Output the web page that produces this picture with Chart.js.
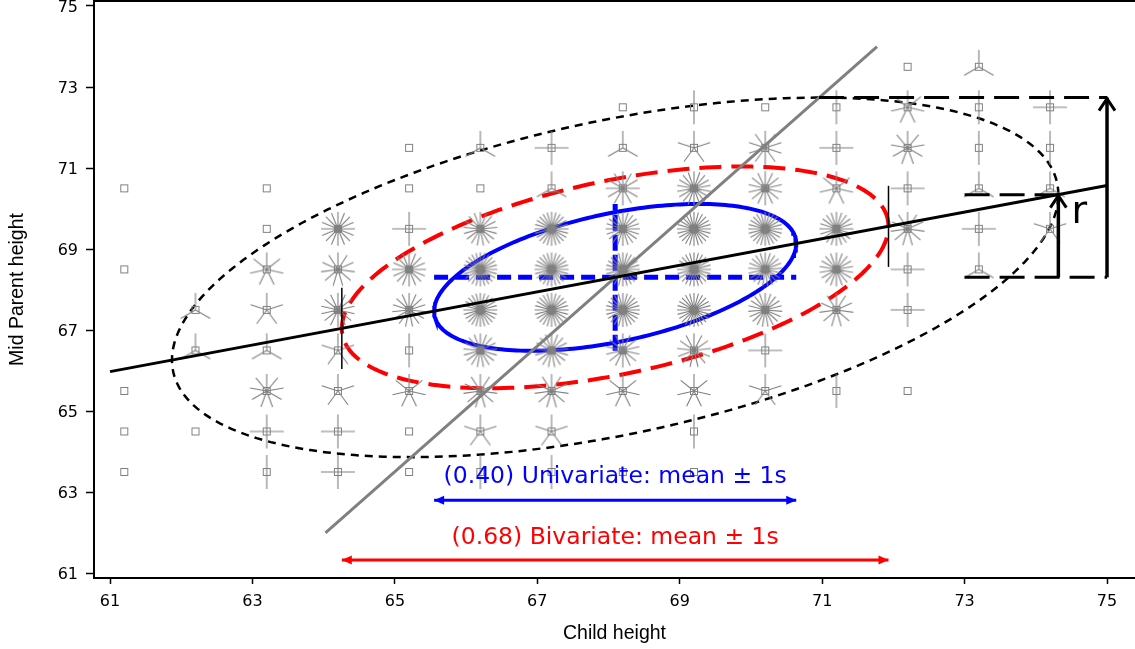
<!DOCTYPE html>
<html>
<head>
<meta charset="utf-8">
<title>Galton data: sunflower plot with data ellipses</title>
<script src="https://cdn.jsdelivr.net/npm/chart.js@4.4.1/dist/chart.umd.min.js"></script>
<style>
  html, body { margin: 0; padding: 0; background: #fff; }
  #wrap { width: 1135px; height: 649px; position: relative; }
</style>
</head>
<body>
<div id="wrap"><canvas id="galton"></canvas></div>
<script>
// ==== DATA ====
// child height classes (x) and mid parent height classes (y)
const childHeights = [61.2, 62.2, 63.2, 64.2, 65.2, 66.2, 67.2, 68.2, 69.2, 70.2, 71.2, 72.2, 73.2, 74.2];
const parentHeights = [63.5, 64.5, 65.5, 66.5, 67.5, 68.5, 69.5, 70.5, 71.5, 72.5, 73.5];

// number of children in each cell, one row per mid parent class
const parent635 = [1, 0, 2, 4, 1, 2, 2, 1, 1, 0, 0, 0, 0, 0];
const parent645 = [1, 1, 4, 4, 1, 5, 5, 0, 2, 0, 0, 0, 0, 0];
const parent655 = [1, 0, 9, 5, 7, 11, 11, 7, 7, 5, 2, 1, 0, 0];
const parent665 = [0, 3, 3, 5, 2, 17, 17, 14, 13, 4, 0, 0, 0, 0];
const parent675 = [0, 3, 5, 14, 15, 36, 38, 28, 38, 19, 11, 4, 0, 0];
const parent685 = [1, 0, 7, 11, 16, 25, 31, 34, 48, 21, 18, 4, 3, 0];
const parent695 = [0, 0, 1, 16, 4, 17, 27, 20, 33, 25, 20, 11, 4, 5];
const parent705 = [1, 0, 1, 0, 1, 1, 3, 12, 18, 14, 7, 4, 3, 3];
const parent715 = [0, 0, 0, 0, 1, 3, 4, 3, 5, 10, 4, 9, 2, 2];
const parent725 = [0, 0, 0, 0, 0, 0, 0, 1, 2, 1, 2, 7, 2, 4];
const parent735 = [0, 0, 0, 0, 0, 0, 0, 0, 0, 0, 0, 1, 3, 0];
const countRows = [parent635, parent645, parent655, parent665, parent675, parent685,
                   parent695, parent705, parent715, parent725, parent735];

const xTicks = [61, 63, 65, 67, 69, 71, 73, 75];
const yTicks = [61, 63, 65, 67, 69, 71, 73, 75];

const uniLabel = "(0.40) Univariate: mean \u00b1 1s";
const biLabel = "(0.68) Bivariate: mean \u00b1 1s";

// ==== STATS ====
let n = 0, sx = 0, sy = 0;
const cells = [];
countRows.forEach((row, i) => {
    row.forEach((k, j) => {
        if (k > 0) {
            cells.push({ x: childHeights[j], y: parentHeights[i], n: k });
            n += k; sx += k * childHeights[j]; sy += k * parentHeights[i];
        }
    });
});
const mx = sx / n, my = sy / n;
let sxx = 0, syy = 0, sxy = 0;
cells.forEach(c => {
    sxx += c.n * (c.x - mx) ** 2;
    syy += c.n * (c.y - my) ** 2;
    sxy += c.n * (c.x - mx) * (c.y - my);
});
const sdx = Math.sqrt(sxx / (n - 1)), sdy = Math.sqrt(syy / (n - 1));
const r = sxy / Math.sqrt(sxx * syy);

const c68 = Math.sqrt(-2 * Math.log(1 - 0.68));
const c95 = Math.sqrt(-2 * Math.log(1 - 0.95));

function ellipse(c) {
    const pts = [];
    for (let i = 0; i <= 240; i++) {
        const t = i / 240 * 2 * Math.PI;
        pts.push({
            x: mx + c * sdx * Math.cos(t),
            y: my + c * sdy * (r * Math.cos(t) + Math.sqrt(1 - r * r) * Math.sin(t))
        });
    }
    return pts;
}
const yOnX = x => my + r * sdy / sdx * (x - mx);
const xOnY = y => mx + r * sdx / sdy * (y - my);

// ==== SUNFLOWER GLYPHS ====
const glyphCache = {};
function flower(k) {
    if (glyphCache[k]) return glyphCache[k];
    const size = 44, c = size / 2;
    const petals = Math.min(k, 24);
    const cv = document.createElement("canvas");
    cv.width = size; cv.height = size;
    const g = cv.getContext("2d");
    g.strokeStyle = "#808080";
    if (k > 1) {
        g.lineWidth = 1.1;
        g.beginPath();
        for (let i = 0; i < petals; i++) {
            const a = -Math.PI / 2 + i * 2 * Math.PI / petals;
            g.moveTo(c, c);
            g.lineTo(c + 17 * Math.cos(a), c + 17 * Math.sin(a));
        }
        g.stroke();
    }
    g.lineWidth = 1;
    g.strokeRect(c - 3.5, c - 3.5, 7, 7);
    glyphCache[k] = cv;
    return cv;
}

// ==== LINE HELPERS ====
function seg(data, color, width, dash, order) {
    return {
        data, showLine: true, pointRadius: 0, borderColor: color, borderWidth: width,
        borderDash: dash || [], fill: false, order: order
    };
}

const xRight = mx + c95 * sdx, yTop = my + c95 * sdy, yMid = my + r * c95 * sdy;
const xTopPt = mx + r * c95 * sdx;
const uniY = 62.8, biY = 61.33;

const datasets = [
    seg(ellipse(c95), "#000", 2.5, [8, 6], 9),
    seg(ellipse(c68), "#ff0000", 4, [22, 10], 8),
    seg(ellipse(1), "#0000ff", 4, [], 7),
    seg([{ x: mx - sdx, y: my }, { x: mx + sdx, y: my }], "#0000ff", 5, [14, 7], 6),
    seg([{ x: mx, y: my - sdy }, { x: mx, y: my + sdy }], "#0000ff", 5, [16, 4], 6),
    {
        data: cells, pointStyle: ctx => flower(ctx.raw ? ctx.raw.n : 1),
        pointRadius: 5, showLine: false, order: 5
    },
    seg([{ x: xOnY(62), y: 62 }, { x: xOnY(74), y: 74 }], "#808080", 3, [], 4),
    seg([{ x: 61, y: yOnX(61) }, { x: 75, y: yOnX(75) }], "#000", 3, [], 3),
    seg([{ x: mx - c68 * sdx, y: yOnX(mx - c68 * sdx) - 1 }, { x: mx - c68 * sdx, y: yOnX(mx - c68 * sdx) + 1 }], "#000", 1.5, [], 3),
    seg([{ x: mx + c68 * sdx, y: yOnX(mx + c68 * sdx) - 1 }, { x: mx + c68 * sdx, y: yOnX(mx + c68 * sdx) + 1 }], "#000", 1.5, [], 3),
    // right side: r as a ratio of the two vertical spans
    seg([{ x: xTopPt, y: yTop }, { x: 75, y: yTop }], "#000", 3, [25, 10], 2),
    seg([{ x: 73, y: yMid }, { x: xRight, y: yMid }], "#000", 3, [25, 10], 2),
    seg([{ x: 73, y: my }, { x: 75, y: my }], "#000", 3, [25, 10], 2),
    seg([{ x: 75, y: my }, { x: 75, y: yTop }], "#000", 3.5, [], 2),
    seg([{ x: xRight, y: my }, { x: xRight, y: yMid }], "#000", 3.5, [], 2),
    // bottom range arrows
    seg([{ x: mx - sdx, y: uniY }, { x: mx + sdx, y: uniY }], "#0000ff", 3, [], 2),
    seg([{ x: mx - c68 * sdx, y: biY }, { x: mx + c68 * sdx, y: biY }], "#ff0000", 3, [], 2)
];

// ==== ARROWHEADS + TEXT ====
const notes = {
    id: "notes",
    afterDatasetsDraw(chart) {
        const { ctx, scales: { x, y } } = chart;
        const px = v => x.getPixelForValue(v), py = v => y.getPixelForValue(v);

        function solidHead(X, Y, dir, color) {
            ctx.fillStyle = color;
            ctx.beginPath();
            ctx.moveTo(X, Y);
            ctx.lineTo(X - dir * 10, Y - 4.5);
            ctx.lineTo(X - dir * 10, Y + 4.5);
            ctx.closePath();
            ctx.fill();
        }
        function openHead(X, Y) {
            ctx.strokeStyle = "#000";
            ctx.lineWidth = 3;
            ctx.beginPath();
            ctx.moveTo(X - 8, Y + 13);
            ctx.lineTo(X, Y + 1);
            ctx.lineTo(X + 8, Y + 13);
            ctx.stroke();
        }
        ctx.save();
        solidHead(px(mx - sdx), py(uniY), -1, "#0000ff");
        solidHead(px(mx + sdx), py(uniY), 1, "#0000ff");
        solidHead(px(mx - c68 * sdx), py(biY), -1, "#ff0000");
        solidHead(px(mx + c68 * sdx), py(biY), 1, "#ff0000");
        openHead(px(75), py(yTop));
        openHead(px(xRight), py(yMid));

        ctx.textAlign = "center";
        ctx.textBaseline = "alphabetic";
        ctx.font = "23.5px 'DejaVu Sans'";
        ctx.fillStyle = "#0000ff";
        ctx.fillText(uniLabel, px(mx), py(63.23));
        ctx.fillStyle = "#ff0000";
        ctx.fillText(biLabel, px(mx), py(61.72));
        ctx.textAlign = "left";
        ctx.fillStyle = "#000";
        ctx.font = "38px 'DejaVu Sans'";
        ctx.fillText("r", px(74.5), py(69.65));
        ctx.restore();
    },
    afterDraw(chart) {
        // top frame line
        const { ctx, chartArea } = chart;
        ctx.save();
        ctx.strokeStyle = "#000";
        ctx.lineWidth = 2;
        ctx.beginPath();
        ctx.moveTo(chartArea.left, chartArea.top);
        ctx.lineTo(chartArea.right, chartArea.top);
        ctx.stroke();
        ctx.restore();
    }
};

const axisFont = { family: "'DejaVu Sans'", size: 16 };
const titleFont = { family: "'Liberation Sans'", size: 19.5 };

new Chart(document.getElementById("galton"), {
    type: "scatter",
    data: { datasets },
    options: {
        responsive: true,
        maintainAspectRatio: false,
        animation: false,
        events: [],
        layout: { autoPadding: false, padding: { top: 1, right: 0, left: 0, bottom: 0 } },
        plugins: { legend: { display: false }, tooltip: { enabled: false } },
        scales: {
            x: {
                type: "linear", min: 60.775, max: 75.393,
                afterBuildTicks: s => { s.ticks = xTicks.map(v => ({ value: v })); },
                afterFit: s => { s.height = 71; s.paddingLeft = 0; s.paddingRight = 0; },
                ticks: { color: "#000", font: axisFont, padding: 8, maxRotation: 0, autoSkip: false },
                grid: { drawOnChartArea: false, tickLength: 6, tickColor: "#000", tickWidth: 1.5 },
                border: { color: "#000", width: 2 },
                title: { display: true, text: "Child height", color: "#000", font: titleFont, padding: { top: 6, bottom: 4 } }
            },
            y: {
                type: "linear", min: 60.884, max: 75.123,
                afterBuildTicks: s => { s.ticks = yTicks.map(v => ({ value: v })); },
                afterFit: s => { s.width = 94; s.paddingTop = 0; s.paddingBottom = 0; },
                ticks: { color: "#000", font: axisFont, padding: 8, labelOffset: 2, autoSkip: false },
                grid: { drawOnChartArea: false, tickLength: 8, tickColor: "#000", tickWidth: 1.5 },
                border: { color: "#000", width: 2 },
                title: { display: true, text: "Mid Parent height", color: "#000", font: titleFont, padding: { top: 6, bottom: 4 } }
            }
        }
    },
    plugins: [notes]
});
</script>
</body>
</html>
